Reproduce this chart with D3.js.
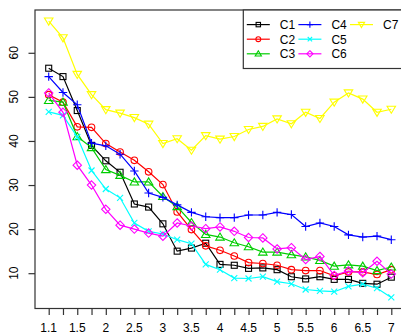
<!DOCTYPE html>
<html>
<head>
<meta charset="utf-8">
<script src="https://cdn.jsdelivr.net/npm/d3@7"></script>
<style>
  html, body { margin: 0; padding: 0; background: #fff; }
  svg { display: block; font-family: "Liberation Sans", Arial, Helvetica, sans-serif; }
</style>
</head>
<body>
<svg id="chart" width="401" height="335"></svg>
<script>
// x positions (1 to 7 in steps of 0.25) and their axis labels
const xValues = d3.range(25).map(i => 1 + i * 0.25);
const xLabels = ["1.1", "1.25", "1.5", "1.75", "2", "2.25", "2.5", "2.75", "3", "3.25",
                 "3.5", "3.75", "4", "4.25", "4.5", "4.75", "5", "5.25", "5.5", "5.75",
                 "6", "6.25", "6.5", "6.75", "7"];
const yTicks = [10, 20, 30, 40, 50, 60];

const seriesNames = ["C1", "C2", "C3", "C4", "C5", "C6", "C7"];

const c1 = [56.5, 54.6, 46.9, 39.0, 35.5, 32.9, 25.7, 25.0, 21.2, 15.0, 15.7, 16.8, 12.0,
            11.8, 11.1, 11.2, 10.8, 9.2, 8.7, 9.2, 8.6, 8.6, 7.7, 7.5, 9.1];
const c2 = [50.5, 48.8, 43.2, 43.1, 39.4, 37.5, 35.6, 33.0, 30.1, 23.9, 19.9, 16.2, 15.2,
            13.9, 12.4, 12.2, 11.8, 10.8, 10.6, 10.6, 9.4, 10.3, 10.3, 9.7, 10.8];
const c3 = [49.2, 48.8, 41.0, 38.5, 33.5, 32.2, 30.7, 30.7, 27.4, 25.1, 21.5, 18.8, 18.2,
            16.9, 16.0, 14.8, 14.8, 14.2, 13.7, 12.9, 11.6, 11.9, 11.6, 10.6, 11.4];
const c4 = [54.6, 51.0, 48.2, 39.5, 38.9, 37.0, 33.2, 28.2, 27.2, 25.5, 23.8, 22.8, 22.6,
            22.6, 23.2, 23.2, 23.8, 23.3, 20.6, 21.4, 20.6, 18.7, 18.2, 18.4, 17.6];
const c5 = [46.6, 45.8, 40.9, 33.3, 29.1, 27.1, 21.4, 19.5, 18.9, 17.6, 16.7, 12.0, 10.8,
            8.9, 8.8, 9.2, 8.1, 7.6, 6.3, 6.0, 5.8, 7.0, 7.5, 6.6, 4.5];
const c6 = [50.9, 46.5, 34.5, 30.0, 24.5, 20.9, 20.0, 19.1, 18.4, 21.4, 20.7, 20.1, 20.5,
            19.5, 18.1, 18.0, 15.5, 15.8, 13.1, 13.8, 9.5, 10.5, 10.1, 12.7, 9.8];
const c7 = [67.2, 63.4, 55.1, 50.5, 47.1, 46.3, 45.3, 43.8, 39.4, 40.5, 37.9, 41.2, 40.4,
            41.0, 42.6, 43.3, 45.0, 43.9, 46.5, 45.1, 48.8, 50.9, 49.5, 46.5, 47.2];

const seriesValues = [c1, c2, c3, c4, c5, c6, c7];
const seriesColors = ["#000000", "#FF0000", "#00CD00", "#0000FF", "#00FFFF", "#FF00FF", "#FFFF00"];
const seriesShapes = ["square", "circle", "triangleUp", "plus", "cross", "diamond", "triangleDown"];

// plotting region (right edge runs past the window)
const box = { left: 35, right: 405, top: 10, bottom: 308.5 };

const svg = d3.select("#chart");

// 4% padding on each side of the data range
function padded(ext) {
  const d = (ext[1] - ext[0]) * 0.04;
  return [ext[0] - d, ext[1] + d];
}
const allY = seriesValues.flat();
const x = d3.scaleLinear().domain(padded(d3.extent(xValues))).range([box.left, box.right]);
const y = d3.scaleLinear().domain(padded(d3.extent(allY))).range([box.bottom, box.top]);

// frame
svg.append("rect")
  .attr("x", box.left).attr("y", box.top)
  .attr("width", box.right - box.left).attr("height", box.bottom - box.top)
  .attr("fill", "none").attr("stroke", "#333").attr("stroke-width", 1.2);

// x axis: tick at every position, labels skipped where they would collide
const xAxis = d3.axisBottom(x).tickValues(xValues).tickSize(6.5).tickFormat("");
const gx = svg.append("g").attr("transform", `translate(0,${box.bottom})`).call(xAxis);
gx.select(".domain").remove();
gx.selectAll(".tick line").attr("stroke", "#333").attr("stroke-width", 1.2);

const measure = svg.append("text").attr("font-size", 12).attr("visibility", "hidden");
let lastRight = -Infinity;
xValues.forEach((v, i) => {
  measure.text(xLabels[i]);
  const w = measure.node().getComputedTextLength();
  const cx = x(v);
  if (cx - w / 2 > lastRight + 4) {
    svg.append("text")
      .attr("x", cx).attr("y", 332.3)
      .attr("text-anchor", "middle").attr("font-size", 12).attr("fill", "#000")
      .text(xLabels[i]);
    lastRight = cx + w / 2;
  }
});
measure.remove();

// y axis
const yAxis = d3.axisLeft(y).tickValues(yTicks).tickSize(6.5).tickFormat("");
const gy = svg.append("g").attr("transform", `translate(${box.left},0)`).call(yAxis);
gy.select(".domain").remove();
gy.selectAll(".tick line").attr("stroke", "#333").attr("stroke-width", 1.2);
yTicks.forEach(t => {
  svg.append("text")
    .attr("transform", `translate(18,${y(t)}) rotate(-90)`)
    .attr("text-anchor", "middle").attr("font-size", 12).attr("fill", "#000")
    .text(t);
});

// marker drawing
function drawMarker(g, shape, cx, cy, s, color) {
  const sw = 1.1;
  if (shape === "square") {
    g.append("rect").attr("x", cx - s).attr("y", cy - s).attr("width", 2 * s).attr("height", 2 * s)
      .attr("fill", "none").attr("stroke", color).attr("stroke-width", sw);
  } else if (shape === "circle") {
    g.append("circle").attr("cx", cx).attr("cy", cy).attr("r", s * 1.1)
      .attr("fill", "none").attr("stroke", color).attr("stroke-width", sw);
  } else if (shape === "triangleUp") {
    const h = s * 1.35;
    g.append("path")
      .attr("d", `M${cx},${cy - h}L${cx + h * 1.05},${cy + h * 0.75}L${cx - h * 1.05},${cy + h * 0.75}Z`)
      .attr("fill", "none").attr("stroke", color).attr("stroke-width", sw);
  } else if (shape === "triangleDown") {
    const h = s * 1.35;
    g.append("path")
      .attr("d", `M${cx},${cy + h}L${cx + h * 1.05},${cy - h * 0.75}L${cx - h * 1.05},${cy - h * 0.75}Z`)
      .attr("fill", "none").attr("stroke", color).attr("stroke-width", sw);
  } else if (shape === "plus") {
    const a = s * 1.4;
    g.append("path").attr("d", `M${cx - a},${cy}L${cx + a},${cy}M${cx},${cy - a}L${cx},${cy + a}`)
      .attr("stroke", color).attr("stroke-width", sw);
  } else if (shape === "cross") {
    const a = s;
    g.append("path").attr("d", `M${cx - a},${cy - a}L${cx + a},${cy + a}M${cx - a},${cy + a}L${cx + a},${cy - a}`)
      .attr("stroke", color).attr("stroke-width", sw);
  } else if (shape === "diamond") {
    const a = s * 1.4;
    g.append("path").attr("d", `M${cx},${cy - a}L${cx + a},${cy}L${cx},${cy + a}L${cx - a},${cy}Z`)
      .attr("fill", "none").attr("stroke", color).attr("stroke-width", sw);
  }
}

// series: line through the points, then hollow markers
const line = d3.line().x((d, i) => x(xValues[i])).y(d => y(d));
seriesValues.forEach((vals, k) => {
  const g = svg.append("g");
  g.append("path").attr("d", line(vals))
    .attr("fill", "none").attr("stroke", seriesColors[k]).attr("stroke-width", 1.2);
  vals.forEach((v, i) => drawMarker(g, seriesShapes[k], x(xValues[i]), y(v), 3, seriesColors[k]));
});

// legend, three columns filled top to bottom
const leg = { left: 243.3, top: 10, bottom: 68.5, colW: 51.6, rowH: 14.6 };
svg.append("rect")
  .attr("x", leg.left).attr("y", leg.top)
  .attr("width", 200).attr("height", leg.bottom - leg.top)
  .attr("fill", "#fff").attr("stroke", "#333").attr("stroke-width", 1.2);
seriesNames.forEach((name, k) => {
  const col = Math.floor(k / 3), row = k % 3;
  const x0 = leg.left + 3.5 + col * leg.colW;
  const yy = leg.top + leg.rowH * (row + 1);
  svg.append("line").attr("x1", x0).attr("x2", x0 + 23).attr("y1", yy).attr("y2", yy)
    .attr("stroke", seriesColors[k]).attr("stroke-width", 1.2);
  drawMarker(svg, seriesShapes[k], x0 + 11.5, yy, 2.2, seriesColors[k]);
  svg.append("text").attr("x", x0 + 33).attr("y", yy + 4.3)
    .attr("font-size", 12).attr("fill", "#000").text(name);
});
</script>
</body>
</html>
